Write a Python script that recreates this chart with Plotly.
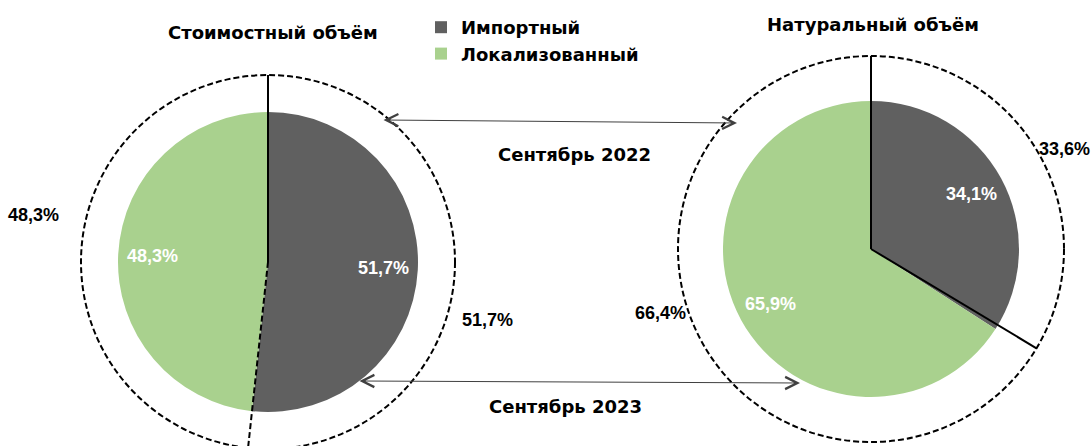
import math
import plotly.graph_objects as go

# ---------------- data ----------------
categories = ["Импортный", "Локализованный"]
value_sep2022 = [51.7, 48.3]     # Стоимостный объём, Сентябрь 2022 (outer ring)
value_sep2023 = [51.7, 48.3]     # Стоимостный объём, Сентябрь 2023 (inner pie)
natural_sep2022 = [33.6, 66.4]   # Натуральный объём, Сентябрь 2022 (outer ring)
natural_sep2023 = [34.1, 65.9]   # Натуральный объём, Сентябрь 2023 (inner pie)
panel_titles = ["Стоимостный объём", "Натуральный объём"]
period_labels = ["Сентябрь 2022", "Сентябрь 2023"]

# ---------------- layout / style ----------------
W, H = 1091, 446
colors = ["#606060", "#a9d18e"]
TXT = "DejaVu Sans, Verdana, sans-serif"
NUM = "Liberation Sans, Arial, sans-serif"
TXT_SIZE = 18
NUM_SIZE = 18

panels = [
    dict(outer=value_sep2022, inner=value_sep2023, title=panel_titles[0],
         cx=268, cy=262, r_in=150, r_out=187, title_xy=(273, 33),
         radial_dash=["solid", "6px,3px"],
         outer_label_xy=[(487, 320), (33, 215)]),
    dict(outer=natural_sep2022, inner=natural_sep2023, title=panel_titles[1],
         cx=871, cy=249, r_in=148, r_out=193, title_xy=(873, 24),
         radial_dash=["solid", "solid"],
         outer_label_xy=[(1064, 149), (660, 313)]),
]


def px(x):
    return x / W


def py(y):
    return 1 - y / H


def fmt(v):
    return f"{v:.1f}%".replace(".", ",")


def text_ann(x, y, text, family, size, color="black"):
    return dict(x=px(x), y=py(y), xref="paper", yref="paper", text=f"<b>{text}</b>",
                showarrow=False, xanchor="center", yanchor="middle",
                font=dict(family=family, size=size, color=color))


fig = go.Figure()
shapes = []
annotations = []

for i, p in enumerate(panels):
    cx, cy, r, R = p["cx"], p["cy"], p["r_in"], p["r_out"]
    # inner (Sept 2023) pie
    fig.add_trace(go.Pie(
        labels=categories, values=p["inner"], sort=False, direction="clockwise",
        rotation=0, marker=dict(colors=colors, line=dict(width=0)),
        textinfo="none", hoverinfo="label+percent",
        domain=dict(x=[px(cx - r), px(cx + r)], y=[py(cy + r), py(cy - r)]),
        showlegend=(i == 0), name=p["title"],
    ))
    # inner labels at mid-angle of each slice
    tot = sum(p["inner"])
    cum = 0
    for v in p["inner"]:
        mid = math.radians(360 * (cum + v / 2) / tot)
        cum += v
        annotations.append(text_ann(cx + 0.77 * r * math.sin(mid),
                                    cy - 0.77 * r * math.cos(mid),
                                    fmt(v), NUM, NUM_SIZE, "white"))
    # outer (Sept 2022) ring: dashed circle + radial slice borders
    shapes.append(dict(type="circle", xref="paper", yref="paper",
                       x0=px(cx - R), x1=px(cx + R), y0=py(cy + R), y1=py(cy - R),
                       line=dict(color="black", width=2, dash="6px,3px"), layer="above"))
    tot = sum(p["outer"])
    cum = 0
    for k, v in enumerate(p["outer"]):
        ang = math.radians(360 * cum / tot)
        cum += v
        shapes.append(dict(type="line", xref="paper", yref="paper",
                           x0=px(cx), y0=py(cy),
                           x1=px(cx + R * math.sin(ang)), y1=py(cy - R * math.cos(ang)),
                           line=dict(color="black", width=2, dash=p["radial_dash"][k]),
                           layer="above"))
    for v, (lx, ly) in zip(p["outer"], p["outer_label_xy"]):
        annotations.append(text_ann(lx, ly, fmt(v), NUM, NUM_SIZE))
    # panel title
    tx, ty = p["title_xy"]
    annotations.append(text_ann(tx, ty, p["title"], TXT, TXT_SIZE))

# period arrows and captions
arrows = [((382, 120), (737, 123), (574, 154)), ((358, 381), (800, 383), (565, 406))]
for label, ((x0, y0), (x1, y1), (tx, ty)) in zip(period_labels, arrows):
    annotations.append(dict(
        x=px(x1), y=py(y1), xref="paper", yref="paper", text="",
        showarrow=True, ax=x0 - x1, ay=y0 - y1, axref="pixel", ayref="pixel",
        arrowside="end+start", arrowhead=5, startarrowhead=5,
        arrowsize=2.4, startarrowsize=2.4, arrowwidth=1, arrowcolor="#404040",
        standoff=0, startstandoff=0,
    ))
    annotations.append(text_ann(tx, ty, label, TXT, TXT_SIZE))

fig.update_layout(
    width=W, height=H, autosize=False,
    margin=dict(l=0, r=0, t=0, b=0),
    paper_bgcolor="white", plot_bgcolor="white",
    shapes=shapes, annotations=annotations,
    legend=dict(x=px(421), y=py(9), xanchor="left", yanchor="top",
                font=dict(family=TXT, size=TXT_SIZE, color="black", weight="bold"),
                bgcolor="rgba(0,0,0,0)", tracegroupgap=0),
)

fig.write_html("out.html", config={"displayModeBar": False},
               post_script="document.body.style.margin='0px';")
